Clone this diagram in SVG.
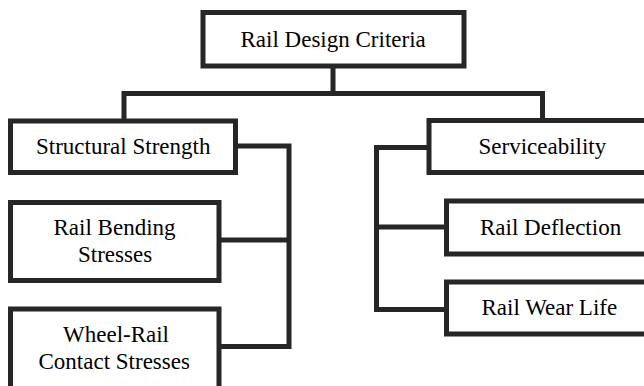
<svg xmlns="http://www.w3.org/2000/svg" width="644" height="386" viewBox="0 0 644 386">
  <rect width="644" height="386" fill="#ffffff"/>

  <!-- connectors -->
  <g id="connectors" fill="none" stroke="#262626" stroke-width="5" stroke-linejoin="miter" stroke-linecap="square">
    <path d="M333 66 V93.5 M124 93.5 H542.5 M124 93.5 V121 M542.5 93.5 V120.5"/>
    <path d="M235.5 146 H289 V346.5 H219 M289 240 H219"/>
    <path d="M429 147.5 H376.5 V309.5 H446.5 M376.5 227 H446.5"/>
  </g>

  <!-- boxes -->
  <g id="rail-design-criteria">
    <rect x="203" y="12.5" width="261" height="53.5" fill="#ffffff" stroke="#262626" stroke-width="5"/>
  </g>
  <g id="structural-strength">
    <rect x="10.5" y="121" width="225" height="51.5" fill="#ffffff" stroke="#262626" stroke-width="5"/>
  </g>
  <g id="rail-bending-stresses">
    <rect x="10.5" y="202.5" width="208.5" height="78" fill="#ffffff" stroke="#262626" stroke-width="5"/>
  </g>
  <g id="wheel-rail-contact-stresses">
    <rect x="10.5" y="309" width="208.5" height="100" fill="#ffffff" stroke="#262626" stroke-width="5"/>
  </g>
  <g id="serviceability">
    <rect x="429" y="120.5" width="240" height="52" fill="#ffffff" stroke="#262626" stroke-width="5"/>
  </g>
  <g id="rail-deflection">
    <rect x="446.5" y="201" width="230" height="53" fill="#ffffff" stroke="#262626" stroke-width="5"/>
  </g>
  <g id="rail-wear-life">
    <rect x="446.5" y="282" width="230" height="52" fill="#ffffff" stroke="#262626" stroke-width="5"/>
  </g>

  <!-- box labels -->
  <text x="240.5" y="47" font-family="Times New Roman" font-size="23">Rail Design Criteria</text>
  <text x="36" y="154" font-family="Times New Roman" font-size="23">Structural Strength</text>
  <text x="53.5" y="235" font-family="Times New Roman" font-size="23">Rail Bending</text>
  <text x="78" y="261.5" font-family="Times New Roman" font-size="23">Stresses</text>
  <text x="63" y="341.5" font-family="Times New Roman" font-size="23">Wheel-Rail</text>
  <text x="38.5" y="369" font-family="Times New Roman" font-size="23">Contact Stresses</text>
  <text x="478.5" y="154" font-family="Times New Roman" font-size="23">Serviceability</text>
  <text x="480" y="235" font-family="Times New Roman" font-size="23">Rail Deflection</text>
  <text x="481.5" y="315" font-family="Times New Roman" font-size="23">Rail Wear Life</text>
</svg>
